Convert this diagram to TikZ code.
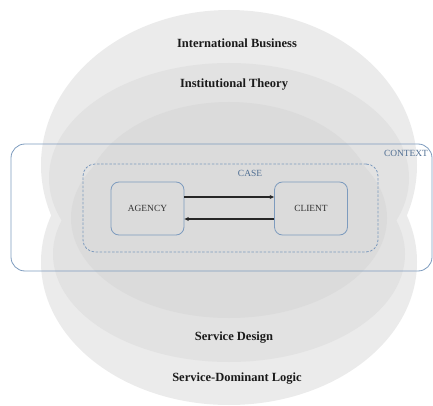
\documentclass[tikz,border=0pt]{standalone}
\usepackage{fontspec}
\setmainfont{Liberation Serif}
\usetikzlibrary{arrows.meta}
\definecolor{outerc}{HTML}{EBEBEB}
\definecolor{midc}{HTML}{E2E2E2}
\definecolor{innerc}{HTML}{DBDBDB}
\definecolor{bluestroke}{HTML}{7D9BBE}
\definecolor{bluetext}{HTML}{4E6D92}
\definecolor{titlec}{HTML}{1A1A1A}
\definecolor{labelc}{HTML}{303030}
\tikzset{
  layer/.style={draw=none},
  titletext/.style={font=\fontsize{12.5}{14}\selectfont\bfseries, text=titlec, inner sep=0pt},
  boxtext/.style={font=\fontsize{9.4}{11}\selectfont, text=labelc},
  bluelabel/.style={font=\fontsize{9.4}{11}\selectfont, text=bluetext, inner sep=0pt},
  actorbox/.style={draw=bluestroke, line width=0.8pt, rounded corners=8pt, minimum width=73pt, minimum height=53pt, inner sep=0pt, font=\fontsize{9.4}{11}\selectfont, text=labelc},
  contextbox/.style={draw=bluestroke, line width=0.8pt, rounded corners=14pt, minimum width=421pt, minimum height=127pt, inner sep=0pt},
  casebox/.style={draw=bluestroke, line width=0.8pt, dash pattern=on 2.5pt off 1.6pt, rounded corners=12pt, minimum width=295pt, minimum height=88pt, inner sep=0pt},
  flow/.style={draw=black!85, line width=1.2pt, -{Stealth[length=4.5pt,width=4pt]}}
}
\begin{document}
\begin{tikzpicture}[x=1pt,y=-1pt]
\useasboundingbox (0,0) rectangle (433,406);
% outer layer
\fill[outerc] (229,165) ellipse [x radius=188, y radius=155];
\fill[outerc] (229,262) ellipse [x radius=188, y radius=143];
% middle layer
\fill[midc] (229,178) ellipse [x radius=180, y radius=115];
\fill[midc] (229,254) ellipse [x radius=176, y radius=108];
% inner layer
\fill[innerc] (229,202) ellipse [x radius=145, y radius=100];
\fill[innerc] (229,218) ellipse [x radius=158, y radius=100];
% titles
\node[titletext] (ib) at (237,43) {International Business};
\node[titletext] (it) at (234,85) {Institutional Theory};
\node[titletext] (sd) at (234,338) {Service Design};
\node[titletext] (sdl) at (237,379) {Service-Dominant Logic};
% context
\node[contextbox] (context) at (221.5,207.5) {};
\node[bluelabel] (contextlbl) at (406,153.5) {CONTEXT};
% case
\node[casebox] (case) at (230.5,208) {};
\node[bluelabel] (caselbl) at (250,173) {CASE};
% actors
\node[actorbox] (agency) at (147.5,208.5) {AGENCY};
\node[actorbox] (client) at (311,208.5) {CLIENT};
\draw[flow] ([yshift=11.5pt]agency.east) -- ([yshift=11.5pt]client.west);
\draw[flow] ([yshift=-10.5pt]client.west) -- ([yshift=-10.5pt]agency.east);
\end{tikzpicture}
\end{document}
